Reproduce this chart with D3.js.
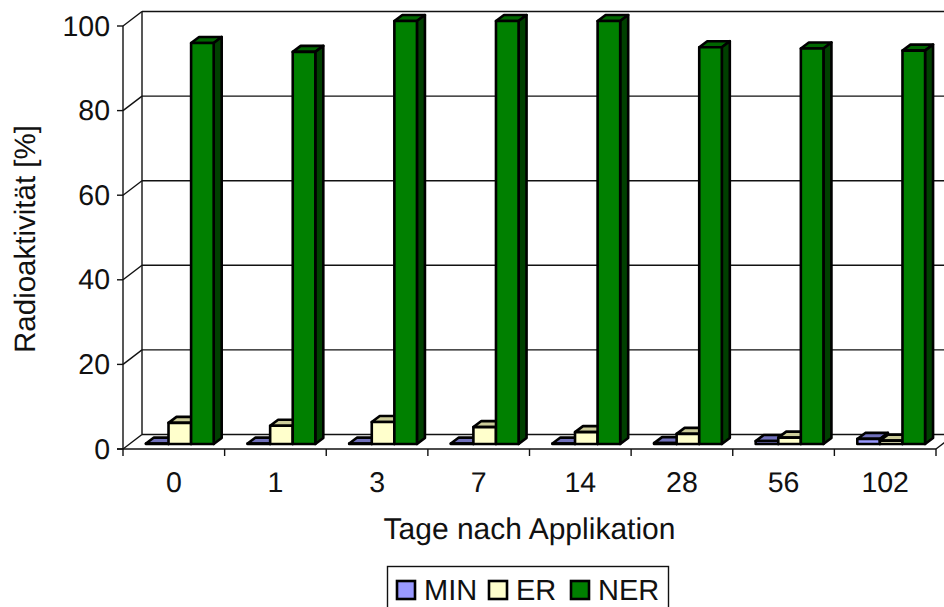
<!DOCTYPE html>
<html>
<head>
<meta charset="utf-8">
<script src="https://d3js.org/d3.v7.min.js"></script>
<style>
html, body { margin: 0; padding: 0; background: white; overflow: hidden; }
text { font-family: "Liberation Sans", Arial, sans-serif; fill: #111; text-rendering: geometricPrecision; }
</style>
</head>
<body>
<svg id="chart" width="944" height="607"></svg>
<script>
const days = ["0", "1", "3", "7", "14", "28", "56", "102"];
const seriesNames = ["MIN", "ER", "NER"];
const minValues = [0.1, 0.1, 0.1, 0.1, 0.1, 0.2, 0.7, 1.2];
const erValues = [5.0, 4.3, 5.2, 4.0, 2.8, 2.4, 1.5, 0.8];
const nerValues = [94.8, 92.7, 100, 100, 100, 93.8, 93.5, 93.0];
const yTicks = [0, 20, 40, 60, 80, 100];
const values = { MIN: minValues, ER: erValues, NER: nerValues };

const faceColors = { MIN: "#9999ff", ER: "#ffffcc", NER: "#008000" };
const topColors = { MIN: "#7070bb", ER: "#cccc99", NER: "#006600" };
const sideColors = { MIN: "#4c4c80", ER: "#808066", NER: "#004000" };

const left = 123, floorY = 449, topY = 26, right = 936;
const wallDx = 19, wallDy = -14.5;   // depth of the chart box
const barShiftX = 6, barShiftY = -5; // bars stand part way into the box
const barDx = 8, barDy = -6;         // depth of one bar

const svg = d3.select("#chart");
const y = d3.scaleLinear().domain([0, 100]).range([floorY, topY]);
const x = d3.scaleBand().domain(days).range([left, right]);
// scaleBand padding is relative to the step, 0.75 step each side = gap width 50%
const xSeries = d3.scaleBand().domain(seriesNames)
    .range([0, x.bandwidth()]).paddingInner(0).paddingOuter(0.75);

function line(x1, y1, x2, y2, w) {
    svg.append("line").attr("x1", x1).attr("y1", y1).attr("x2", x2).attr("y2", y2)
        .attr("stroke", "#111").attr("stroke-width", w || 1.4);
}

// grid on the back wall and left wall
yTicks.forEach(function(t) {
    line(left, y(t), left + wallDx, y(t) + wallDy);
    line(left + wallDx, y(t) + wallDy, 944, y(t) + wallDy);
    line(left - 6, y(t), left, y(t));
});
line(left + wallDx, y(0) + wallDy, left + wallDx, y(100) + wallDy);
line(left, y(0), left, y(100));

// floor and x axis
line(left - 6, floorY, right, floorY);
line(right, floorY, right + wallDx, floorY + wallDy);
d3.range(days.length + 1).forEach(function(i) {
    const tx = i < days.length ? x(days[i]) : right;
    line(tx, floorY, tx, floorY + 7);
});

// bars
days.forEach(function(day, i) {
    seriesNames.forEach(function(name) {
        const v = values[name][i];
        const x0 = x(day) + xSeries(name) + barShiftX;
        const x1 = x0 + xSeries.bandwidth();
        const y0 = y(0) + barShiftY;
        const y1 = y(v) + barShiftY;
        const g = svg.append("g").attr("stroke", "black").attr("stroke-width", 2.6)
            .attr("stroke-linejoin", "round");
        g.append("path").attr("fill", topColors[name])
            .attr("d", "M" + x0 + "," + y1 + "L" + (x0 + barDx) + "," + (y1 + barDy)
                + "L" + (x1 + barDx) + "," + (y1 + barDy) + "L" + x1 + "," + y1 + "Z");
        g.append("path").attr("fill", sideColors[name])
            .attr("d", "M" + x1 + "," + y1 + "L" + (x1 + barDx) + "," + (y1 + barDy)
                + "L" + (x1 + barDx) + "," + (y0 + barDy) + "L" + x1 + "," + y0 + "Z");
        g.append("rect").attr("x", x0).attr("y", y1).attr("width", x1 - x0).attr("height", y0 - y1)
            .attr("fill", faceColors[name]);
    });
});

// tick labels
svg.selectAll(".ylab").data(yTicks).enter().append("text")
    .attr("x", 110).attr("y", function(d) { return y(d) + 9.5; })
    .attr("text-anchor", "end").style("font-size", "28.5px")
    .text(function(d) { return d; });
svg.selectAll(".xlab").data(days).enter().append("text")
    .attr("x", function(d) { return x(d) + x.bandwidth() / 2; }).attr("y", 491.5)
    .attr("text-anchor", "middle").style("font-size", "28.5px")
    .text(function(d) { return d; });

svg.append("text").attr("x", 529.5).attr("y", 539).attr("text-anchor", "middle")
    .style("font-size", "30px").text("Tage nach Applikation");
svg.append("text").attr("transform", "translate(35,239) rotate(-90)").attr("text-anchor", "middle")
    .style("font-size", "29.5px").text("Radioaktivität [%]");

// legend
svg.append("rect").attr("x", 387.5).attr("y", 566.5).attr("width", 281).attr("height", 45)
    .attr("fill", "white").attr("stroke", "#111").attr("stroke-width", 1.4);
const legendX = d3.scaleOrdinal().domain(seriesNames).range([397, 489, 571]);
seriesNames.forEach(function(name) {
    svg.append("rect").attr("x", legendX(name)).attr("y", 581).attr("width", 18).attr("height", 18)
        .attr("fill", faceColors[name]).attr("stroke", "black").attr("stroke-width", 2.6);
    svg.append("text").attr("x", legendX(name) + 27).attr("y", 599.5)
        .style("font-size", "29px").text(name);
});
</script>
</body>
</html>
